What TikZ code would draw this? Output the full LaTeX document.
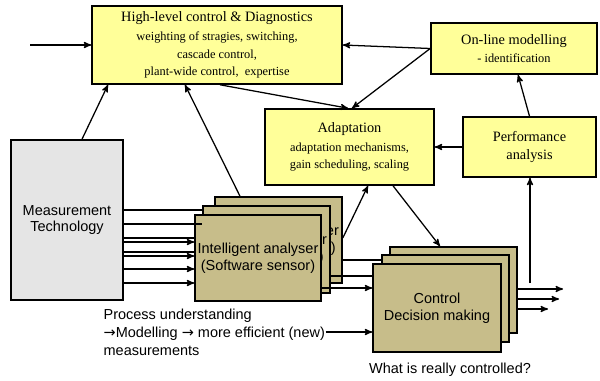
\documentclass[tikz,border=0pt]{standalone}
\usepackage{fontspec}
\setmainfont{Liberation Serif}
\setsansfont{Liberation Sans}
\newfontfamily\arrowfont{DejaVu Sans}
\usepackage{tikz}
\usetikzlibrary{arrows}
\definecolor{cyellow}{rgb}{1, 1, 0.6}
\definecolor{cgrey}{rgb}{0.9, 0.9, 0.9}
\definecolor{ctan}{rgb}{0.78, 0.74, 0.54}
\newcommand{\subtxt}{\fontsize{8.8}{10.7}\selectfont}
\newcommand{\rarr}{{\arrowfont →}}

\begin{document}
\begin{tikzpicture}[->,>=stealth',x=0.025cm,y=-0.025cm,line width=0.9pt,
  yellow node/.style={rectangle,fill=cyellow,draw,line width=1.1pt,align=center,inner sep=0pt,font=\fontsize{10.2}{12.5}\selectfont},
  grey node/.style={rectangle,fill=cgrey,draw,line width=1.1pt,align=center,inner sep=0pt,font=\sffamily\fontsize{10.3}{11.4}\selectfont},
  tan node/.style={rectangle,fill=ctan,draw,line width=1.1pt,align=center,inner sep=0pt,font=\sffamily\fontsize{10.3}{12.1}\selectfont},
  text node/.style={inner sep=0pt,font=\sffamily\fontsize{10.3}{12.8}\selectfont}]
  \useasboundingbox (0,0) rectangle (600,381);

  % yellow boxes
  \node[yellow node,minimum width=6.25cm,minimum height=1.95cm] (1) at (217,45)
    {High-level control \& Diagnostics\\[1pt]{\subtxt weighting of stragies, switching,}\\{\subtxt cascade control,}\\{\subtxt plant-wide control,\ \ expertise}};
  \node[yellow node,minimum width=4.15cm,minimum height=1.275cm] (2) at (514,48.5)
    {On-line modelling\\{\subtxt - identification}};
  \node[yellow node,minimum width=4.225cm,minimum height=1.9cm] (3) at (349.5,147)
    {Adaptation\\[1pt]{\subtxt adaptation mechanisms,}\\{\subtxt gain scheduling, scaling}};
  \node[yellow node,minimum width=3.325cm,minimum height=1.5cm,font=\fontsize{10.2}{12.8}\selectfont] (4) at (529.5,147)
    {Performance\\analysis};

  \node[grey node,minimum width=2.8cm,minimum height=4cm] (5) at (67,220) {Measurement\\Technology};

  % stacked analysers
  \node[tan node,minimum width=3.175cm,minimum height=2.15cm] (6) at (278.5,240) {Intelligent analyser\\(Software sensor)};
  \node[tan node,minimum width=3.175cm,minimum height=2.175cm] (7) at (266.5,249.5) {Intelligent analyser\\(Software sensor)};
  \node[tan node,minimum width=3.15cm,minimum height=2.15cm] (8) at (258,258) {Intelligent analyser\\(Software sensor)};

  % stacked control
  \node[tan node,minimum width=3.175cm,minimum height=2.15cm] (9) at (453.5,290) {};
  \node[tan node,minimum width=3.175cm,minimum height=2.175cm] (10) at (445.5,298.5) {};
  \node[tan node,minimum width=3.2cm,minimum height=2.2cm] (11) at (437,308) {Control\\Decision making};

  \node[text node,anchor=west,align=left] (12) at (103,332)
    {Process understanding\\\rarr Modelling \rarr\ more efficient (new)\\measurements};
  \node[text node] (13) at (450,370) {What is really controlled?};

  \coordinate (in) at (30,45);
  \coordinate (up) at (530,283);
  \coordinate (o1) at (563,289);
  \coordinate (o2) at (559,299);
  \coordinate (o3) at (548,309);

  \path
    (in) edge (1)
    (5.north -| 82,0) edge (1.south -| 108,0)
    (6.north -| 240,0) edge (1.south -| 185,0)
    (1.south -| 220,0) edge (3.north -| 348,0)
    (2.west) edge (1.east |- 0,45)
    (2.west) edge (3.north -| 352,0)
    (4.north) edge (2.south -| 518,0)
    (4) edge (3)
    (up) edge (4.south -| 530,0)
    (3.south -| 393,0) edge (9.north -| 440,0)
    (6.east |- 0,238) edge (3.south -| 368,0);

  % measurement lines
  \path
    (5.east |- 0,210) edge[-] (7.west |- 0,210)
    (5.east |- 0,224) edge[-] (7.west |- 0,224)
    (5.east |- 0,238) edge[-] (8.west |- 0,238)
    (5.east |- 0,242) edge (8.west |- 0,242)
    (5.east |- 0,252) edge[-] (8.west |- 0,252)
    (5.east |- 0,256) edge (8.west |- 0,256)
    (5.east |- 0,269) edge (8.west |- 0,269)
    (5.east |- 0,283) edge (8.west |- 0,283);

  \path
    (6.east |- 0,260) edge[-] (10.west |- 0,260)
    (7.east |- 0,276) edge[-] (11.west |- 0,276)
    (8.east |- 0,288) edge (11.west |- 0,288)
    (12.east) edge (11.west |- 12.east)
    (9.east |- o1) edge (o1)
    (9.east |- o2) edge (o2)
    (9.east |- o3) edge (o3);
\end{tikzpicture}
\end{document}
